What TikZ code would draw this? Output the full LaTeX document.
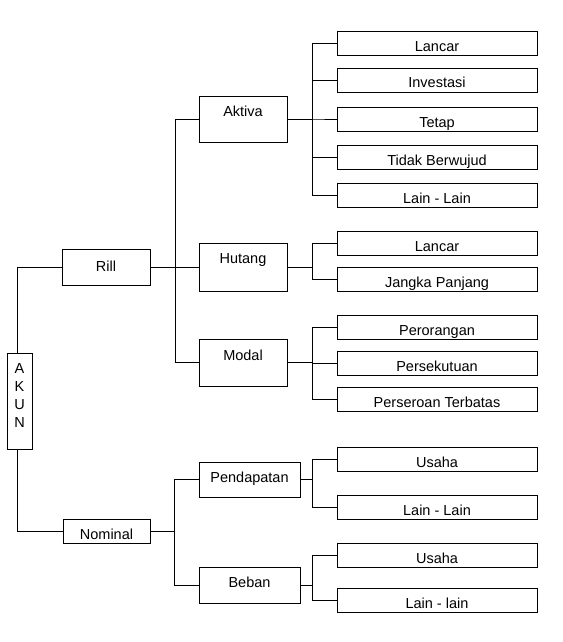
\documentclass[tikz,border=0pt]{standalone}
\usepackage{fontspec}
\setmainfont{Liberation Sans}
\begin{document}
\begin{tikzpicture}[x=1pt,y=-1pt,
  base/.style={draw, line width=1pt, inner sep=0pt, fill=white, font=\fontsize{14.5}{18}\selectfont},
  box/.style={base, text height=20pt},
  leaf/.style={box, minimum width=200pt, minimum height=24pt, text depth=4pt},
  mid/.style={box, minimum width=88pt, minimum height=46pt, text depth=26pt},
  wide/.style={box, minimum width=101pt, minimum height=36pt, text depth=16pt},
  conn/.style={line width=1pt}]
\fill[white] (0,0) rectangle (562,642);
\useasboundingbox (0,0) rectangle (562,642);
% root
\node[base] (akun) at (19.5,401) {\parbox[c][96pt][t]{25pt}{\centering\rule{0pt}{20pt}A\\K\\U\\N}};
% level 1
\node[box, minimum width=88pt, minimum height=36pt, text height=22pt, text depth=14pt] (rill) at (106,267) {Rill};
\node[box, minimum width=87pt, minimum height=24pt, text depth=4pt] (nominal) at (106.5,531) {Nominal};
% level 2
\node[mid] (aktiva) at (243,119) {Aktiva};
\node[mid, minimum height=48pt, text depth=28pt] (hutang) at (243,267) {Hutang};
\node[mid, minimum height=47pt, text height=21pt] (modal) at (243,362.5) {Modal};
\node[wide, minimum height=35pt, text depth=15pt] (pendapatan) at (249.5,479.5) {Pendapatan};
\node[wide] (beban) at (249.5,585) {Beban};
% leaves
\node[leaf] (a1) at (437,44) {Lancar};
\node[leaf] (a2) at (437,80) {Investasi};
\node[leaf] (a3) at (437,119) {Tetap};
\node[leaf] (a4) at (437,157.5) {Tidak Berwujud};
\node[leaf] (a5) at (437,195) {Lain - Lain};
\node[leaf] (h1) at (437,243.5) {Lancar};
\node[leaf] (h2) at (437,279.5) {Jangka Panjang};
\node[leaf] (m1) at (437,327.5) {Perorangan};
\node[leaf] (m2) at (437,363.5) {Persekutuan};
\node[leaf] (m3) at (437,399.5) {Perseroan Terbatas};
\node[leaf] (p1) at (437,459.5) {Usaha};
\node[leaf] (p2) at (437,507.5) {Lain - Lain};
\node[leaf] (b1) at (437,555) {Usaha};
\node[leaf] (b2) at (437,600) {Lain - lain};
% connectors
\draw[conn] ([xshift=-2.5pt]akun.north) |- (rill.west);
\draw[conn] ([xshift=-2.5pt]akun.south) |- (nominal.west);
\draw[conn] (rill.east) -- (hutang.west);
\foreach \c in {aktiva,modal} \draw[conn] (rill.east) -- ++(24.5,0) |- (\c.west);
\foreach \c in {pendapatan,beban} \draw[conn] (nominal.east) -- ++(24,0) |- (\c.west);
\foreach \c in {a1,a2,a3,a4,a5} \draw[conn] (aktiva.east) -- ++(25,0) |- (\c.west);
\foreach \c in {h1,h2} \draw[conn] (hutang.east) -- ++(25,0) |- (\c.west);
\foreach \c in {m1,m2,m3} \draw[conn] (modal.east) -- ++(25,0) |- (\c.west);
\foreach \c in {p1,p2} \draw[conn] (pendapatan.east) -- ++(12,0) |- (\c.west);
\foreach \c in {b1,b2} \draw[conn] (beban.east) -- ++(12,0) |- (\c.west);
\end{tikzpicture}
\end{document}
